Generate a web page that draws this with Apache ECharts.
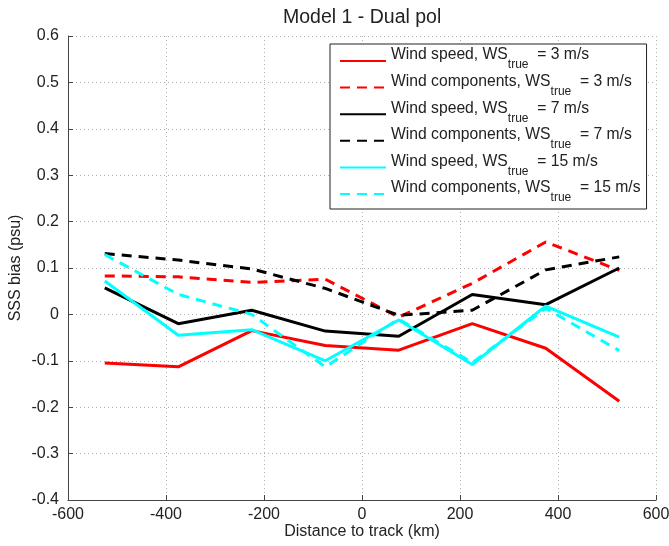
<!DOCTYPE html>
<html>
<head>
<meta charset="utf-8">
<script src="https://cdn.jsdelivr.net/npm/echarts@6/dist/echarts.min.js"></script>
<style>
  html, body { margin: 0; padding: 0; background: #fff; }
  #chart { width: 669px; height: 546px; }
</style>
</head>
<body>
<div id="chart"></div>
<script>
// distance bins (km)
const distance = [-525, -375, -225, -75, 75, 225, 375, 525]

// SSS bias (psu)
const speed3 = [-0.105, -0.113, -0.035, -0.067, -0.077, -0.020, -0.073, -0.187]
const comp3 = [0.083, 0.081, 0.069, 0.076, -0.006, 0.067, 0.156, 0.095]
const speed7 = [0.057, -0.020, 0.009, -0.036, -0.047, 0.043, 0.021, 0.100]
const comp7 = [0.131, 0.117, 0.098, 0.056, -0.002, 0.009, 0.096, 0.124]
const speed15 = [0.072, -0.045, -0.033, -0.100, -0.012, -0.108, 0.018, -0.049]
const comp15 = [0.129, 0.043, 0.000, -0.113, -0.010, -0.104, 0.013, -0.078]

const seriesKeys = ['s3', 'c3', 's7', 'c7', 's15', 'c15']
const seriesData = [speed3, comp3, speed7, comp7, speed15, comp15]
const seriesKind = ['Wind speed', 'Wind components', 'Wind speed', 'Wind components', 'Wind speed', 'Wind components']
const seriesWs = ['3', '3', '7', '7', '15', '15']
const seriesColor = ['#ff0000', '#ff0000', '#000000', '#000000', '#00ffff', '#00ffff']
const seriesDashed = [false, true, false, true, false, true]

const FONT = 'Liberation Sans, Arial, sans-serif'

const chart = echarts.init(document.getElementById('chart'))

const gridLine = { show: true, lineStyle: { color: '#b0b0b0', type: [1, 3], width: 1 } }

const option = {
  animation: false,
  backgroundColor: '#fff',
  title: {
    text: 'Model 1 - Dual pol',
    left: 278,
    top: 3,
    textStyle: { fontFamily: FONT, fontSize: 19.5, fontWeight: 'normal', color: '#222' }
  },
  grid: { left: 68, right: 13, top: 36, bottom: 46, outerBoundsMode: 'none' },
  legend: {
    orient: 'vertical',
    left: 330,
    top: 44,
    padding: [3, 6, 1, 9],
    itemWidth: 46,
    itemHeight: 14,
    itemGap: -1.4,
    backgroundColor: '#fff',
    borderColor: '#222',
    borderWidth: 1,
    itemStyle: { opacity: 0 },
    data: seriesKeys,
    formatter: name => {
      const i = seriesKeys.indexOf(name)
      return '{m|' + seriesKind[i] + ', WS}{s|true}{m|  = ' + seriesWs[i] + ' m/s}'
    },
    textStyle: {
      fontFamily: FONT,
      color: '#222',
      rich: {
        m: { fontFamily: FONT, fontSize: 15.7, lineHeight: 12, padding: [0, 0, 12, 0], color: '#222' },
        s: { fontFamily: FONT, fontSize: 12, lineHeight: 12, padding: [10, 0, 2, 0], color: '#222' }
      }
    }
  },
  xAxis: {
    type: 'value',
    min: -600,
    max: 600,
    interval: 200,
    name: 'Distance to track (km)',
    nameLocation: 'middle',
    nameGap: 24,
    nameMoveOverlap: false,
    nameTextStyle: { fontFamily: FONT, fontSize: 16, color: '#222' },
    axisLine: { show: true, onZero: false, lineStyle: { color: '#444' } },
    axisTick: { show: true, inside: true, length: 5, lineStyle: { color: '#444' } },
    axisLabel: { fontFamily: FONT, fontSize: 16, color: '#222', margin: 7 },
    splitLine: gridLine
  },
  yAxis: {
    type: 'value',
    min: -0.4,
    max: 0.6,
    interval: 0.1,
    name: 'SSS bias (psu)',
    nameLocation: 'middle',
    nameRotate: 90,
    nameGap: 44,
    nameMoveOverlap: false,
    nameTextStyle: { fontFamily: FONT, fontSize: 16, color: '#222' },
    axisLine: { show: true, onZero: false, lineStyle: { color: '#444' } },
    axisTick: { show: true, inside: true, length: 5, lineStyle: { color: '#444' } },
    axisLabel: {
      fontFamily: FONT,
      fontSize: 16,
      color: '#222',
      margin: 9,
      formatter: v => (Math.abs(v) < 1e-9 ? '0' : v.toFixed(1))
    },
    splitLine: gridLine
  },
  series: seriesKeys.map((key, i) => ({
    name: key,
    type: 'line',
    symbol: 'none',
    data: distance.map((d, j) => [d, seriesData[i][j]]),
    lineStyle: {
      color: seriesColor[i],
      width: 3,
      type: seriesDashed[i] ? [10, 7] : 'solid'
    },
    itemStyle: { color: seriesColor[i] }
  }))
}

chart.setOption(option)
</script>
</body>
</html>
